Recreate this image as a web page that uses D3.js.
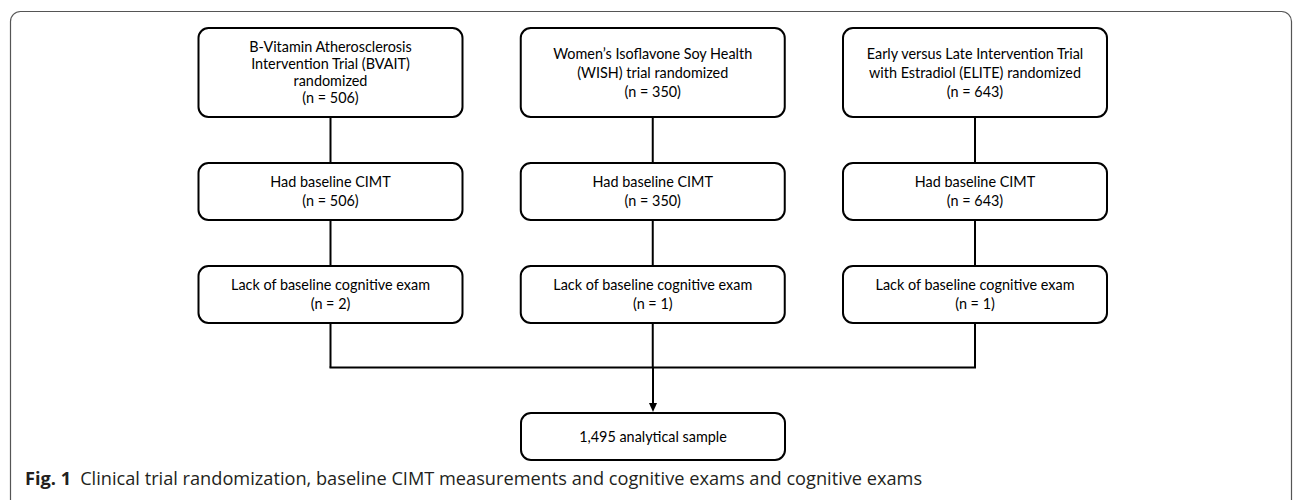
<!DOCTYPE html>
<html>
<head>
<meta charset="utf-8">
<script src="https://cdn.jsdelivr.net/npm/d3@7"></script>
<style>
  body { margin: 0; background: #fff; }
  svg { display: block; }
</style>
</head>
<body>
<svg id="svg"></svg>
<script>
// flowchart data
const trials = ["BVAIT", "WISH", "ELITE"];
const trialLabels = [
  ["B-Vitamin Atherosclerosis", "Intervention Trial (BVAIT)", "randomized"],
  ["Women\u2019s Isoflavone Soy Health", "(WISH) trial randomized"],
  ["Early versus Late Intervention Trial", "with Estradiol (ELITE) randomized"]
];
const randomized = [506, 350, 643];
const hadCimt = [506, 350, 643];
const lackCog = [2, 1, 1];
const analytical = "1,495";
const captionBold = "Fig. 1";
const captionText = "Clinical trial randomization, baseline CIMT measurements and cognitive exams and cognitive exams";

var width = 1293;
var height = 500;
var boxW = 264;

var svg = d3.select("#svg")
    .attr("width", width)
    .attr("height", height);

// columns
var x = d3.scalePoint()
    .domain(trials)
    .range([330.5, 975]);

// stage tops / heights
var stages = ["rand", "cimt", "cog", "join", "final"];
var yTop = d3.scaleOrdinal().domain(stages).range([28, 163, 266, 367.5, 413]);
var boxH = d3.scaleOrdinal().domain(stages).range([89, 57, 57, 0, 47]);

// outer frame (cropped at bottom/right like the source figure)
svg.append("rect")
    .attr("x", 10.5).attr("y", 11.5)
    .attr("width", 1281).attr("height", 500)
    .attr("rx", 10).attr("ry", 10)
    .attr("fill", "none")
    .attr("stroke", "#555")
    .attr("stroke-width", 1.2);

var lines = svg.append("g")
    .attr("stroke", "#000")
    .attr("stroke-width", 2)
    .attr("fill", "none");

// vertical connectors per trial
trials.forEach(function(t) {
  lines.append("line")
      .attr("x1", x(t)).attr("x2", x(t))
      .attr("y1", yTop("rand") + boxH("rand")).attr("y2", yTop("cimt"));
  lines.append("line")
      .attr("x1", x(t)).attr("x2", x(t))
      .attr("y1", yTop("cimt") + boxH("cimt")).attr("y2", yTop("cog"));
  lines.append("line")
      .attr("x1", x(t)).attr("x2", x(t))
      .attr("y1", yTop("cog") + boxH("cog")).attr("y2", yTop("join"));
});

// horizontal join
lines.append("line")
    .attr("x1", x(trials[0]) - 1).attr("x2", x(trials[2]) + 1)
    .attr("y1", yTop("join")).attr("y2", yTop("join"));

// arrow down to final box
var cx = 653;
lines.append("line")
    .attr("x1", cx).attr("x2", cx)
    .attr("y1", yTop("join")).attr("y2", yTop("final") - 8);
svg.append("path")
    .attr("d", "M" + (cx - 4) + "," + (yTop("final") - 10) + "L" + (cx + 4) + "," + (yTop("final") - 10) + "L" + cx + "," + (yTop("final") - 1) + "Z")
    .attr("fill", "#000");

// boxes
var boxes = [];
trials.forEach(function(t, i) {
  boxes.push({cx: x(t), stage: "rand", lines: trialLabels[i].concat(["(n = " + randomized[i] + ")"]), lh: i === 0 ? 17 : 19});
  boxes.push({cx: x(t), stage: "cimt", lines: ["Had baseline CIMT", "(n = " + hadCimt[i] + ")"], lh: 18.5});
  boxes.push({cx: x(t), stage: "cog", lines: ["Lack of baseline cognitive exam", "(n = " + lackCog[i] + ")"], lh: 18.5});
});
boxes.push({cx: cx, stage: "final", lines: [analytical + " analytical sample"], lh: 18});

var g = svg.append("g")
  .selectAll("g")
  .data(boxes)
  .join("g");

g.append("rect")
    .attr("x", d => d.cx - boxW / 2)
    .attr("y", d => yTop(d.stage))
    .attr("width", boxW)
    .attr("height", d => boxH(d.stage))
    .attr("rx", 10).attr("ry", 10)
    .attr("fill", "#fff")
    .attr("stroke", "#000")
    .attr("stroke-width", 2);

g.append("text")
    .attr("font-family", "Lato, sans-serif")
    .attr("font-size", 14.4)
    .attr("fill", "#000")
    .attr("text-anchor", "middle")
    .each(function(d) {
      var n = d.lines.length;
      var mid = yTop(d.stage) + boxH(d.stage) / 2;
      d3.select(this).selectAll("tspan")
        .data(d.lines)
        .join("tspan")
          .attr("x", d.cx)
          .attr("y", (l, k) => mid + (k - (n - 1) / 2) * d.lh + 5)
          .text(l => l);
    });

// caption
var cap = svg.append("text")
    .attr("x", 25)
    .attr("y", 485)
    .attr("font-family", "'Open Sans', sans-serif")
    .attr("font-size", 18.2)
    .attr("fill", "#231f20");
cap.append("tspan")
    .attr("font-weight", "bold")
    .text(captionBold);
cap.append("tspan")
    .attr("dx", 9)
    .text(captionText);
</script>
</body>
</html>
